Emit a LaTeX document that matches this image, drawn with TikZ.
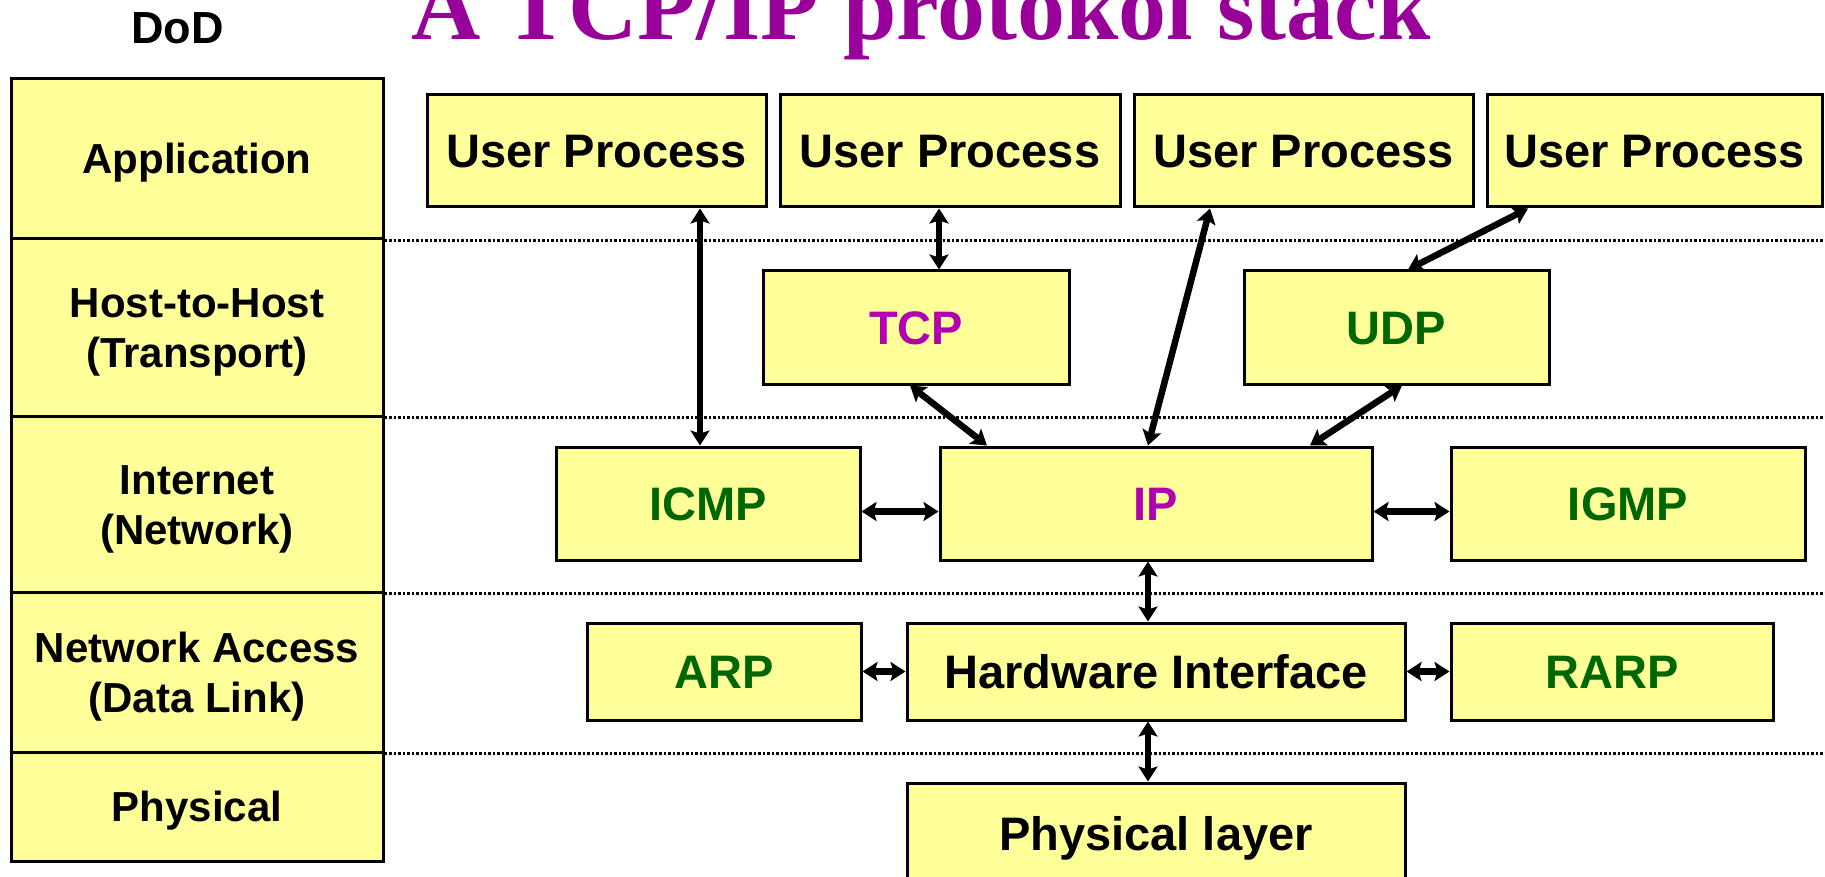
\documentclass[tikz,border=0pt]{standalone}
\usepackage{fontspec}
\setmainfont{Liberation Sans}
\newfontfamily\titlefont{Liberation Serif}
\usetikzlibrary{arrows.meta,calc}
\definecolor{boxyellow}{HTML}{FFFF99}
\definecolor{titlepurple}{HTML}{990099}
\definecolor{protopurple}{HTML}{B000B0}
\definecolor{protogreen}{HTML}{006600}
\begin{document}
\begin{tikzpicture}[x=1pt,y=-1pt,
  box/.style={draw=black, line width=3pt, fill=boxyellow, inner sep=0pt,
    font=\bfseries\fontsize{47}{56}\selectfont, text height=34pt, text depth=0pt},
  layerbox/.style={draw=black, line width=3pt, fill=boxyellow, inner sep=0pt,
    minimum width=372pt, align=center,
    font=\bfseries\fontsize{42}{50}\selectfont, text depth=0pt},
  purp/.style={text=protopurple},
  grn/.style={text=protogreen},
  sepline/.style={line width=2.7pt, dash pattern=on 2.5pt off 2pt},
  conn/.style={line width=6.5pt,
    {Stealth[length=15pt,width=19pt,inset=3pt]}-{Stealth[length=15pt,width=19pt,inset=3pt]}}
]
\useasboundingbox (0,0) rectangle (1825,877);
\clip (0,0) rectangle (1825,877);

% titles
\node[anchor=base west, inner sep=0pt, text=titlepurple,
  font=\titlefont\bfseries\fontsize{96}{100}\selectfont] (title) at (411,40) {A TCP/IP protokol stack};
\node[anchor=base, inner sep=0pt, font=\bfseries\fontsize{45}{50}\selectfont] (dod) at (177.5,44) {DoD};

% left DoD layer column
\node[layerbox, minimum height=160pt, text height=30pt] (r1) at (197,159) {Application};
\node[layerbox, minimum height=177pt, text height=80pt] (r2) at (197,327.5) {Host-to-Host\\(Transport)};
\node[layerbox, minimum height=176pt, text height=80pt] (r3) at (197,504) {Internet\\(Network)};
\node[layerbox, minimum height=160pt, text height=80pt] (r4) at (197,672) {Network Access\\(Data Link)};
\node[layerbox, minimum height=109pt, text height=30pt] (r5) at (197,806.5) {Physical};

% dotted layer separators
\draw[sepline] (r1.south east) -- ++(1442,0);
\draw[sepline] (r2.south east) -- ++(1442,0);
\draw[sepline] (r3.south east) -- ++(1442,0);
\draw[sepline] (r4.south east) -- ++(1442,0);

% protocol boxes
\node[box, minimum width=339pt, minimum height=112pt] (up1) at (596.5,151) {User Process};
\node[box, minimum width=340pt, minimum height=112pt] (up2) at (950,151) {User Process};
\node[box, minimum width=339pt, minimum height=112pt] (up3) at (1303.5,151) {User Process};
\node[box, minimum width=335pt, minimum height=112pt] (up4) at (1654.5,151) {User Process};

\node[box, purp, minimum width=306pt, minimum height=113pt] (tcp) at (916,327.5) {TCP};
\node[box, grn, minimum width=305pt, minimum height=113pt] (udp) at (1396.5,327.5) {UDP};

\node[box, grn, minimum width=304pt, minimum height=113pt] (icmp) at (708,503.5) {ICMP};
\node[box, purp, minimum width=432pt, minimum height=113pt] (ip) at (1156,503.5) {IP};
\node[box, grn, minimum width=354pt, minimum height=113pt] (igmp) at (1628,503.5) {IGMP};

\node[box, grn, minimum width=274pt, minimum height=97pt] (arp) at (724,671.5) {ARP};
\node[box, minimum width=498pt, minimum height=97pt] (hw) at (1156,671.5) {Hardware Interface};
\node[box, grn, minimum width=322pt, minimum height=97pt] (rarp) at (1612,671.5) {RARP};

\node[box, minimum width=498pt, minimum height=100pt] (phys) at (1156,833) {Physical layer};

% connectors
\draw[conn] ([xshift=103.5pt]up1.south) -- ([xshift=-8pt]icmp.north);
\draw[conn] ([xshift=-11pt]up2.south) -- ([xshift=23pt]tcp.north);
\draw[conn] ([xshift=-93.5pt]up3.south) -- ([xshift=-8pt]ip.north);
\draw[conn] ([xshift=-126.5pt]up4.south) -- ([xshift=11.5pt]udp.north);
\draw[conn] ([xshift=-6pt]tcp.south) -- ([xshift=-169pt]ip.north);
\draw[conn] ([xshift=5.5pt]udp.south) -- ([xshift=154pt]ip.north);
\draw[conn] ([yshift=-8pt]icmp.east) -- ([yshift=-8pt]ip.west);
\draw[conn] ([yshift=-8pt]ip.east) -- ([yshift=-8pt]igmp.west);
\draw[conn] ([xshift=-8pt]ip.south) -- ([xshift=-8pt]hw.north);
\draw[conn] (arp.east) -- (hw.west);
\draw[conn] (hw.east) -- (rarp.west);
\draw[conn] ([xshift=-8pt]hw.south) -- ([xshift=-8pt]phys.north);
\end{tikzpicture}
\end{document}
